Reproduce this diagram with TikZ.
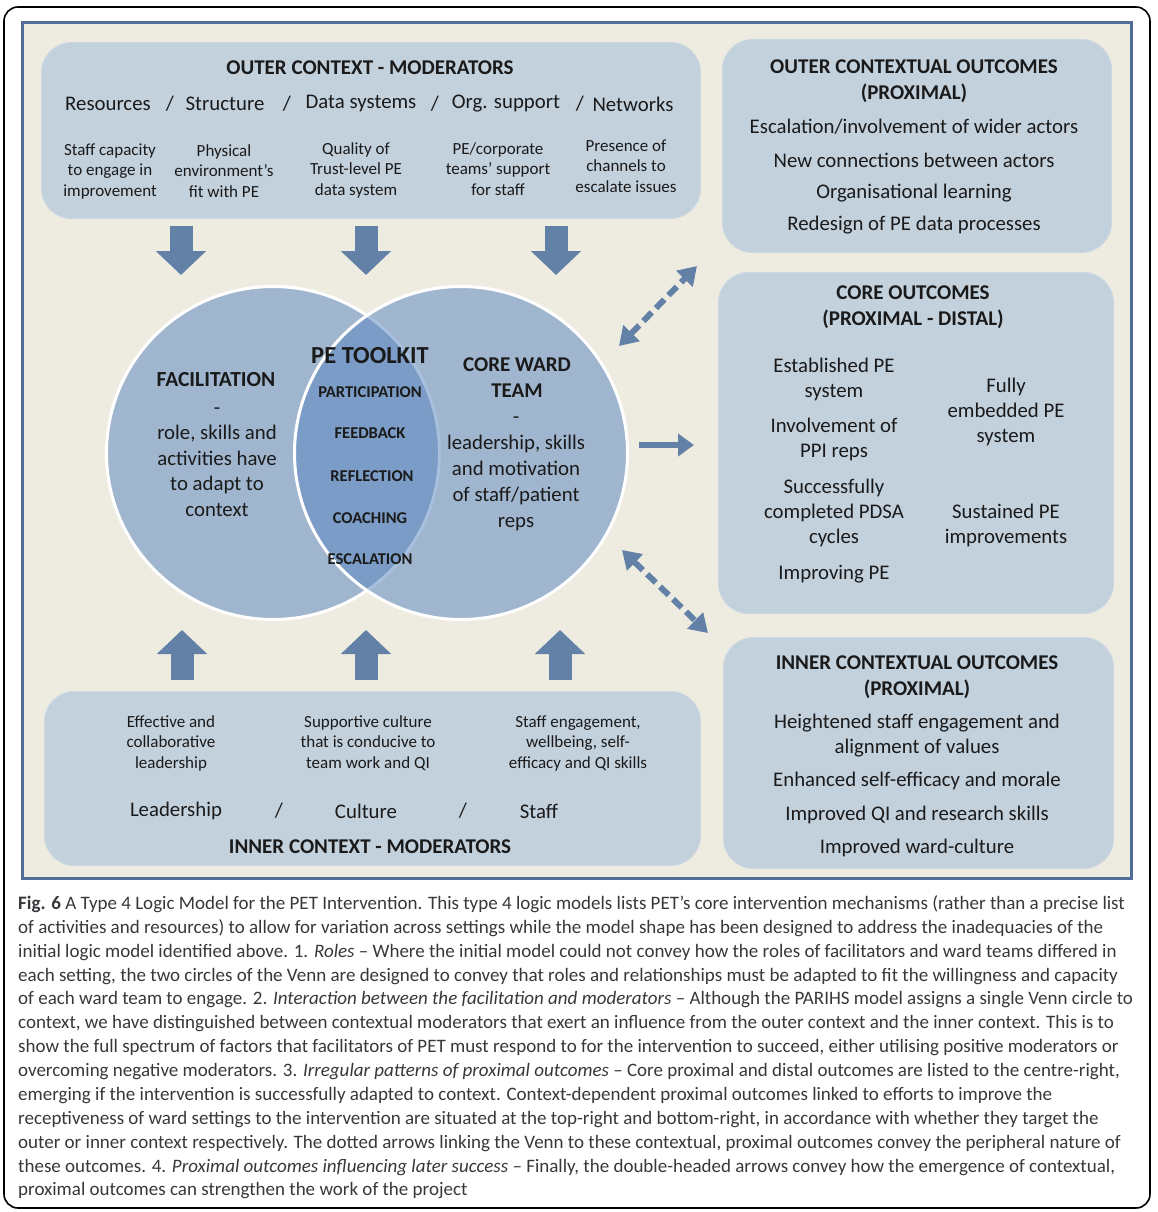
\documentclass[tikz,border=0pt]{standalone}
\usepackage{fontspec}
\setmainfont{Carlito}
\newfontfamily\capfont{Carlito}
\usetikzlibrary{arrows.meta}
\definecolor{bgbeige}{RGB}{238,236,225}
\definecolor{panelblue}{RGB}{80,110,152}
\definecolor{boxblue}{RGB}{195,209,221}
\definecolor{boxedge}{RGB}{205,216,226}
\definecolor{arrowblue}{RGB}{99,129,167}
\definecolor{vennblue}{RGB}{86,131,190}
\definecolor{textdark}{RGB}{26,26,26}
\definecolor{captext}{RGB}{55,55,60}
\tikzset{
  ctxbox/.style={fill=boxblue, draw=boxedge, line width=1pt, rounded corners=30pt, inner sep=0, anchor=north west},
  venn/.style={circle, fill=vennblue, fill opacity=0.51, draw=white, line width=3pt, minimum size=333pt, inner sep=0},
  boxtitle/.style={font=\bfseries\fontsize{21}{26}\selectfont, text=textdark, align=center, inner sep=0, yshift=-2pt},
  boxitem/.style={font=\fontsize{20.8}{25}\selectfont, text=textdark, align=center, inner sep=0, yshift=-2pt},
  smallitem/.style={font=\fontsize{17}{20.5}\selectfont, text=textdark, align=center, inner sep=0, yshift=-1pt},
  toolitem/.style={font=\bfseries\fontsize{16.5}{18}\selectfont, text=textdark, inner sep=0, yshift=-1pt},
  blockarrow/.style={draw=arrowblue, line width=23pt, -{Triangle[width=49pt,length=24pt]}},
  dasharrow/.style={draw=arrowblue, line width=6pt, dash pattern=on 12pt off 6pt,
    {Triangle[width=22pt,length=18pt]}-{Triangle[width=22pt,length=18pt]}},
  capline/.style={font=\capfont\fontsize{19}{24}\selectfont, text=captext, anchor=base west, inner sep=0}
}
\begin{document}
\begin{tikzpicture}[x=1pt, y=-1pt]
\useasboundingbox (0,0) rectangle (1158,1212);
\draw[line width=1.6pt, rounded corners=14pt] (4,7) rectangle (1150,1208);
\draw[draw=panelblue, line width=3pt, fill=bgbeige] (22,23) rectangle (1131,878);

\node[ctxbox, minimum width=659pt, minimum height=176pt] (outerctx) at (41,42) {};
\node[ctxbox, minimum width=389pt, minimum height=213pt] (outerout) at (722,39) {};
\node[ctxbox, minimum width=395pt, minimum height=341pt] (coreout) at (718,272) {};
\node[ctxbox, minimum width=390pt, minimum height=231pt] (innerout) at (723,637) {};
\node[ctxbox, minimum width=656pt, minimum height=174pt] (innerctx) at (44,691) {};

\node[boxtitle] (octitle) at (370,66) {OUTER CONTEXT - MODERATORS};
\node[boxitem] (res) at (108,102) {Resources};
\node[boxitem] (sl1) at (170,102) {/};
\node[boxitem] (struc) at (225,102) {Structure};
\node[boxitem] (sl2) at (287,102) {/};
\node[boxitem] (data) at (361,102) {Data systems};
\node[boxitem] (sl3) at (435,102) {/};
\node[boxitem] (org) at (506,102) {Org. support};
\node[boxitem] (sl4) at (580,102) {/};
\node[boxitem] (net) at (633,102) {Networks};
\node[smallitem] (staffcap) at (110,170) {Staff capacity\\to engage in\\improvement};
\node[smallitem] (phys) at (224,170) {Physical\\environment's\\fit with PE};
\node[smallitem] (qual) at (356,169) {Quality of\\Trust-level PE\\data system};
\node[smallitem] (corp) at (498,168) {PE/corporate\\teams' support\\for staff};
\node[smallitem] (chan) at (626,165) {Presence of\\channels to\\escalate issues};

\node[boxtitle] (ootitle) at (914,79) {OUTER CONTEXTUAL OUTCOMES\\(PROXIMAL)};
\node[boxitem] (esc) at (914,125) {Escalation/involvement of wider actors};
\node[boxitem] (newcon) at (914,158) {New connections between actors};
\node[boxitem] (orglearn) at (914,191) {Organisational learning};
\node[boxitem] (redesign) at (914,223) {Redesign of PE data processes};

\node[boxtitle] (cotitle) at (913,305) {CORE OUTCOMES\\(PROXIMAL - DISTAL)};
\node[boxitem] (estab) at (834,377) {Established PE\\system};
\node[boxitem] (ppi) at (834,437) {Involvement of\\PPI reps};
\node[boxitem] (pdsa) at (834,511) {Successfully\\completed PDSA\\cycles};
\node[boxitem] (improving) at (834,572) {Improving PE};
\node[boxitem] (embedded) at (1006,410) {Fully\\embedded PE\\system};
\node[boxitem] (sustained) at (1006,523) {Sustained PE\\improvements};

\node[boxtitle] (iotitle) at (917,675) {INNER CONTEXTUAL OUTCOMES\\(PROXIMAL)};
\node[boxitem] (heightened) at (917,734) {Heightened staff engagement and\\alignment of values};
\node[boxitem] (enhanced) at (917,779) {Enhanced self-efficacy and morale};
\node[boxitem] (qiskills) at (917,813) {Improved QI and research skills};
\node[boxitem] (wardcult) at (917,846) {Improved ward-culture};

\node[smallitem] (effective) at (171,742) {Effective and\\collaborative\\leadership};
\node[smallitem] (supportive) at (368,742) {Supportive culture\\that is conducive to\\team work and QI};
\node[smallitem] (engage) at (578,742) {Staff engagement,\\wellbeing, self-\\efficacy and QI skills};
\node[boxitem] (lead) at (176,809) {Leadership};
\node[boxitem] (sl5) at (279,809) {/};
\node[boxitem] (cult) at (366,809) {Culture};
\node[boxitem] (sl6) at (463,809) {/};
\node[boxitem] (staff) at (539,809) {Staff};
\node[boxtitle] (ictitle) at (370,845) {INNER CONTEXT - MODERATORS};

\node[venn] (facil) at (273,453) {};
\node[venn] (ward) at (461,453) {};

\node[boxtitle, font=\bfseries\fontsize{21.5}{26}\selectfont] (factitle) at (216,378) {FACILITATION};
\node[boxitem, font=\fontsize{20.8}{25.5}\selectfont] (factext) at (217,460) {-\\role, skills and\\activities have\\to adapt to\\context};
\node[boxtitle] (wardtitle) at (517,376) {CORE WARD\\TEAM};
\node[boxitem, font=\fontsize{20.8}{26}\selectfont] (wardtext) at (516,472) {-\\leadership, skills\\and motivation\\of staff/patient\\reps};
\node[boxtitle, font=\bfseries\fontsize{24.5}{26}\selectfont] (toolkit) at (370,354) {PE TOOLKIT};
\node[toolitem] (particip) at (370,391) {PARTICIPATION};
\node[toolitem] (feedback) at (370,432) {FEEDBACK};
\node[toolitem] (reflect) at (372,475) {REFLECTION};
\node[toolitem] (coach) at (370,517) {COACHING};
\node[toolitem] (escal) at (370,558) {ESCALATION};

\coordinate (dn1a) at (181,226); \coordinate (dn1b) at (181,275);
\coordinate (dn2a) at (366,226); \coordinate (dn2b) at (366,275);
\coordinate (dn3a) at (556,226); \coordinate (dn3b) at (556,275);
\coordinate (up1a) at (182,680); \coordinate (up1b) at (182,630);
\coordinate (up2a) at (366,680); \coordinate (up2b) at (366,630);
\coordinate (up3a) at (560,680); \coordinate (up3b) at (560,630);
\draw[blockarrow] (dn1a) -- (dn1b);
\draw[blockarrow] (dn2a) -- (dn2b);
\draw[blockarrow] (dn3a) -- (dn3b);
\draw[blockarrow] (up1a) -- (up1b);
\draw[blockarrow] (up2a) -- (up2b);
\draw[blockarrow] (up3a) -- (up3b);

\coordinate (dtopa) at (619,346); \coordinate (dtopb) at (697,266);
\coordinate (dbota) at (622,550); \coordinate (dbotb) at (708,633);
\coordinate (corea) at (639,445); \coordinate (coreb) at (694,445);
\draw[dasharrow] (dtopa) -- (dtopb);
\draw[dasharrow] (dbota) -- (dbotb);
\draw[draw=arrowblue, line width=6pt, -{Triangle[width=22pt,length=16pt]}] (corea) -- (coreb);

\node[capline] (cap1) at (18,909) {\textbf{Fig. 6} A Type 4 Logic Model for the PET Intervention. This type 4 logic models lists PET’s core intervention mechanisms (rather than a precise list};
\node[capline] (cap2) at (18,933) {of activities and resources) to allow for variation across settings while the model shape has been designed to address the inadequacies of the};
\node[capline] (cap3) at (18,957) {initial logic model identified above. 1. \textit{Roles} – Where the initial model could not convey how the roles of facilitators and ward teams differed in};
\node[capline] (cap4) at (18,981) {each setting, the two circles of the Venn are designed to convey that roles and relationships must be adapted to fit the willingness and capacity};
\node[capline] (cap5) at (18,1004) {of each ward team to engage. 2. \textit{Interaction between the facilitation and moderators} – Although the PARIHS model assigns a single Venn circle to};
\node[capline] (cap6) at (18,1028) {context, we have distinguished between contextual moderators that exert an influence from the outer context and the inner context. This is to};
\node[capline] (cap7) at (18,1052) {show the full spectrum of factors that facilitators of PET must respond to for the intervention to succeed, either utilising positive moderators or};
\node[capline] (cap8) at (18,1076) {overcoming negative moderators. 3. \textit{Irregular patterns of proximal outcomes} – Core proximal and distal outcomes are listed to the centre-right,};
\node[capline] (cap9) at (18,1100) {emerging if the intervention is successfully adapted to context. Context-dependent proximal outcomes linked to efforts to improve the};
\node[capline] (cap10) at (18,1124) {receptiveness of ward settings to the intervention are situated at the top-right and bottom-right, in accordance with whether they target the};
\node[capline] (cap11) at (18,1148) {outer or inner context respectively. The dotted arrows linking the Venn to these contextual, proximal outcomes convey the peripheral nature of};
\node[capline] (cap12) at (18,1172) {these outcomes. 4. \textit{Proximal outcomes influencing later success} – Finally, the double-headed arrows convey how the emergence of contextual,};
\node[capline] (cap13) at (18,1195) {proximal outcomes can strengthen the work of the project};
\end{tikzpicture}
\end{document}
